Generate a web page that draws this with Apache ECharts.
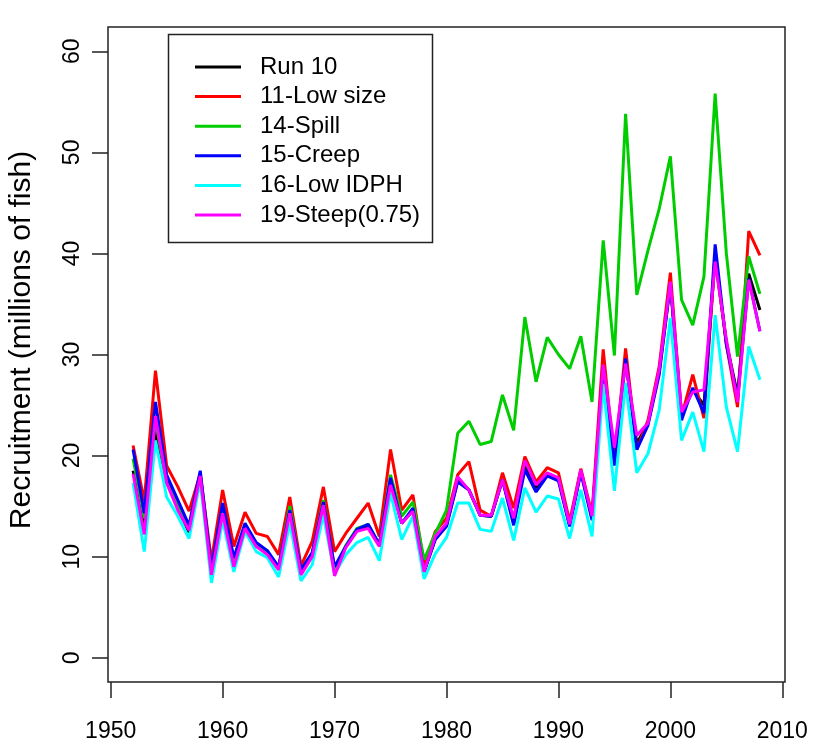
<!DOCTYPE html>
<html>
<head>
<meta charset="utf-8">
<script src="https://cdn.jsdelivr.net/npm/echarts@6/dist/echarts.min.js"></script>
<style>
html,body{margin:0;padding:0;background:#fff;}
#chart{width:813px;height:748px;}
</style>
</head>
<body>
<div id="chart"></div>
<script>
const years = [];
for (let y = 1952; y <= 2008; y++) years.push(y);

const seriesNames = ['Run 10', '11-Low size', '14-Spill', '15-Creep', '16-Low IDPH', '19-Steep(0.75)'];
const seriesColors = ['#000000', '#FF0000', '#00CD00', '#0000FF', '#00FFFF', '#FF00FF'];

const run10 = [18.5,13.2,22.5,17.5,14.8,12.4,18.0,8.5,14.8,9.4,13.0,11.2,10.4,8.8,14.6,8.4,10.2,15.2,8.6,11.0,
  12.6,13.0,11.1,17.5,13.3,14.6,8.5,11.8,13.1,17.6,16.6,14.1,14.0,17.6,13.5,19.0,16.8,18.2,17.7,13.1,
  18.5,13.8,29.0,19.8,29.4,21.2,23.2,28.3,37.0,24.0,26.5,25.0,39.5,31.2,26.0,38.0,34.4];
const lowSize = [21.0,15.5,28.4,19.0,16.9,14.5,18.2,9.6,16.6,11.0,14.4,12.3,12.0,10.2,15.9,9.1,11.5,16.9,10.5,12.3,
  13.8,15.3,12.0,20.6,14.6,16.1,9.2,12.5,13.8,18.1,19.4,14.6,14.0,18.3,14.8,19.9,17.4,18.8,18.3,13.5,
  18.7,14.2,30.5,19.2,30.6,20.6,23.5,28.8,38.1,23.9,28.0,23.7,40.0,31.0,24.8,42.2,39.8];
const spill = [19.7,13.8,23.5,17.3,15.0,12.8,18.2,8.6,15.0,9.6,13.1,11.3,10.5,8.9,15.0,8.5,10.3,15.6,8.8,11.1,
  12.8,13.2,11.2,18.1,14.0,15.4,9.7,12.3,14.6,22.2,23.4,21.1,21.4,26.0,22.5,33.7,27.3,31.7,30.0,28.6,
  31.8,25.3,41.3,29.9,53.8,35.9,40.3,44.4,49.6,35.4,32.9,37.7,55.8,40.0,29.8,39.7,36.0];
const creep = [20.6,14.3,25.3,18.1,15.6,13.1,18.5,8.8,15.3,9.9,13.3,11.4,10.6,9.0,14.6,8.7,10.4,15.4,9.0,11.0,
  12.7,13.2,11.2,17.8,13.3,14.8,8.5,11.7,13.0,17.4,16.6,14.1,14.0,17.6,13.1,18.6,16.4,18.0,17.5,13.0,
  18.3,13.6,28.8,19.0,29.6,20.6,23.0,28.0,37.0,23.5,26.7,24.2,40.9,31.0,25.6,37.5,32.3];
const lowIDPH = [17.3,10.5,21.5,15.9,14.0,11.8,17.5,7.4,13.6,8.5,12.5,10.5,9.9,8.0,13.3,7.6,9.2,14.1,8.3,10.2,
  11.4,11.9,9.6,16.3,11.7,14.0,7.8,10.3,11.9,15.3,15.3,12.7,12.5,15.8,11.6,16.8,14.4,16.0,15.7,11.8,
  16.6,12.0,27.1,16.5,27.2,18.3,20.2,24.5,33.6,21.5,24.3,20.4,33.9,24.8,20.4,30.8,27.5];
const steep = [18.2,12.2,23.9,17.3,14.6,12.6,18.0,8.2,14.3,9.0,12.8,11.0,10.2,8.7,14.3,8.2,10.0,15.1,8.1,10.9,
  12.5,12.8,11.0,17.1,13.3,14.5,8.5,12.0,13.3,17.9,16.6,14.1,14.1,17.6,13.8,19.5,17.1,18.3,17.8,13.2,
  18.6,14.0,29.0,20.8,29.1,22.0,23.2,28.5,37.2,24.3,26.3,26.5,39.2,31.5,25.3,37.4,32.3];

const allValues = [run10, lowSize, spill, creep, lowIDPH, steep];

const xTicks = [1950, 1960, 1970, 1980, 1990, 2000, 2010];
const yTicks = [0, 10, 20, 30, 40, 50, 60];
const yTitle = 'Recruitment (millions of fish)';

const FONT = 'Liberation Sans, Arial, sans-serif';

const chart = echarts.init(document.getElementById('chart'), null, {renderer: 'canvas'});

const series = allValues.map((vals, i) => ({
  name: seriesNames[i],
  type: 'line',
  data: years.map((y, k) => [y, vals[k]]),
  showSymbol: false,
  symbol: 'none',
  lineStyle: {color: seriesColors[i], width: 3},
  itemStyle: {color: seriesColors[i]},
  emphasis: {disabled: true},
  animation: false
}));

chart.setOption({
  animation: false,
  backgroundColor: '#ffffff',
  grid: {
    left: 108, right: 28, top: 27, bottom: 66,
    show: true, borderColor: '#222', borderWidth: 1.5, backgroundColor: 'transparent'
  },
  xAxis: {
    type: 'value',
    min: 1949.76, max: 2010.24,
    splitLine: {show: false},
    axisLine: {show: false, onZero: false},
    axisTick: {show: true, length: 16, inside: false, customValues: xTicks, lineStyle: {color: '#222', width: 1.5}},
    axisLabel: {show: true, customValues: xTicks, margin: 38, color: '#000', fontSize: 23, fontFamily: FONT,
      formatter: v => String(v)}
  },
  yAxis: {
    type: 'value',
    min: -2.4, max: 62.4,
    splitLine: {show: false},
    axisLine: {show: false, onZero: false},
    axisTick: {show: true, length: 16, inside: false, customValues: yTicks, lineStyle: {color: '#222', width: 1.5}},
    axisLabel: {show: true, customValues: yTicks, rotate: 90, margin: 24, color: '#000', fontSize: 23, fontFamily: FONT,
      formatter: v => String(v)}
  },
  legend: {
    orient: 'vertical',
    left: 190, top: 50,
    icon: 'rect',
    itemWidth: 46, itemHeight: 3, itemGap: 5.6,
    data: seriesNames,
    selectedMode: false,
    textStyle: {fontSize: 24, lineHeight: 24, color: '#000', fontFamily: FONT, padding: [0, 0, 0, 14]}
  },
  graphic: [
    {type: 'rect', shape: {x: 168.5, y: 34.5, width: 264, height: 208}, style: {fill: 'none', stroke: '#222', lineWidth: 1.5}, z: 100},
    {type: 'text', x: 22, y: 340, rotation: Math.PI / 2,
     style: {text: yTitle, fontSize: 30, fontFamily: FONT, fill: '#000', align: 'center', verticalAlign: 'middle'}}
  ],
  series: series
});
</script>
</body>
</html>
